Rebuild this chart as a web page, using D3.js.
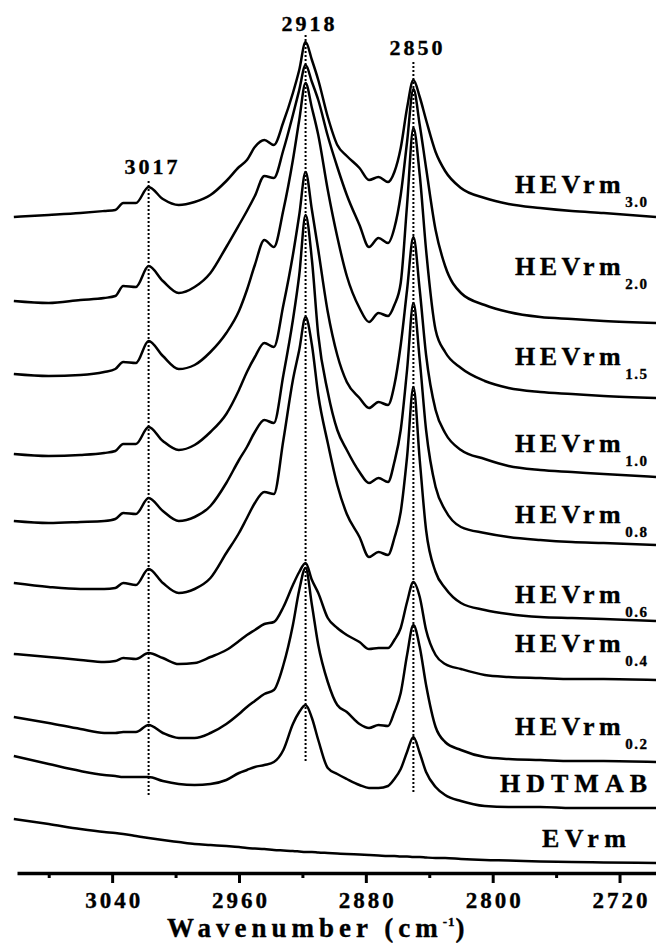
<!DOCTYPE html>
<html>
<head>
<meta charset="utf-8">
<script src="https://cdn.jsdelivr.net/npm/d3@7"></script>
<style>
  body { margin: 0; background: #fff; }
  text { font-family: "Liberation Serif", "Times New Roman", serif; font-weight: bold; fill: #000; stroke: #000; stroke-width: 0.35px; }
</style>
</head>
<body>
<div id="my_dataviz"></div>
<script>
// wavenumber grid (cm-1) shared by every spectrum
const wavenumbers = [3102, 3080, 3060, 3045, 3038, 3033, 3025, 3017, 3008, 2998, 2988, 2978, 2968, 2960, 2955, 2950, 2944, 2938, 2932, 2926, 2922, 2918, 2914, 2910, 2904, 2898, 2892, 2884, 2878, 2872, 2866, 2862, 2858, 2854, 2850, 2846, 2842, 2836, 2830, 2820, 2805, 2790, 2770, 2750, 2730, 2697];

// stacked absorbance (a.u., offset included)
const hevrm30 = [6.53, 6.55, 6.57, 6.59, 6.60, 6.67, 6.67, 6.83, 6.71, 6.65, 6.68, 6.75, 6.89, 7.03, 7.10, 7.23, 7.30, 7.25, 7.48, 7.77, 8.00, 8.28, 8.10, 7.90, 7.53, 7.25, 7.14, 7.02, 6.90, 6.93, 6.88, 6.98, 7.22, 7.62, 7.90, 7.73, 7.50, 7.18, 6.99, 6.82, 6.72, 6.66, 6.62, 6.59, 6.57, 6.53];
const hevrm20 = [5.69, 5.67, 5.70, 5.72, 5.74, 5.84, 5.83, 6.04, 5.89, 5.77, 5.83, 5.97, 6.23, 6.45, 6.59, 6.74, 6.94, 6.92, 7.20, 7.55, 7.80, 8.05, 7.88, 7.70, 7.34, 7.03, 6.75, 6.45, 6.23, 6.32, 6.27, 6.42, 6.75, 7.28, 7.81, 7.45, 7.02, 6.40, 6.04, 5.77, 5.65, 5.58, 5.53, 5.51, 5.49, 5.47];
const hevrm15 = [4.96, 4.94, 4.95, 4.98, 5.01, 5.08, 5.07, 5.29, 5.14, 5.01, 5.05, 5.18, 5.37, 5.59, 5.80, 6.05, 6.30, 6.23, 6.60, 7.10, 7.50, 7.87, 7.62, 7.35, 6.80, 6.33, 5.94, 5.62, 5.48, 5.57, 5.54, 5.65, 5.87, 6.65, 7.42, 6.95, 6.20, 5.40, 5.18, 5.02, 4.89, 4.82, 4.78, 4.76, 4.74, 4.72];
const hevrm10 = [4.16, 4.14, 4.15, 4.17, 4.19, 4.26, 4.26, 4.43, 4.29, 4.20, 4.25, 4.38, 4.56, 4.80, 4.98, 5.13, 5.27, 5.23, 5.65, 6.15, 6.55, 6.98, 6.60, 6.20, 5.58, 5.15, 4.88, 4.72, 4.62, 4.68, 4.65, 4.85, 5.25, 5.80, 6.33, 5.80, 5.15, 4.60, 4.37, 4.20, 4.11, 4.04, 4.00, 3.98, 3.96, 3.93];
const hevrm08 = [3.49, 3.47, 3.48, 3.49, 3.51, 3.57, 3.56, 3.72, 3.59, 3.49, 3.53, 3.64, 3.87, 4.10, 4.23, 4.38, 4.50, 4.47, 4.95, 5.50, 5.95, 6.55, 6.10, 5.35, 4.78, 4.40, 4.20, 3.98, 3.87, 3.92, 3.88, 4.08, 4.40, 5.00, 5.67, 5.10, 4.40, 3.83, 3.60, 3.43, 3.37, 3.33, 3.30, 3.28, 3.27, 3.25];
const hevrm06 = [2.87, 2.83, 2.81, 2.81, 2.82, 2.87, 2.85, 3.01, 2.87, 2.77, 2.81, 2.92, 3.17, 3.37, 3.52, 3.67, 3.78, 3.76, 4.30, 4.90, 5.20, 5.53, 5.25, 4.75, 4.27, 3.85, 3.56, 3.33, 3.13, 3.18, 3.15, 3.32, 3.58, 4.13, 4.83, 4.10, 3.40, 2.98, 2.82, 2.67, 2.60, 2.56, 2.53, 2.52, 2.51, 2.49];
const hevrm04 = [2.16, 2.13, 2.10, 2.08, 2.09, 2.12, 2.11, 2.17, 2.12, 2.06, 2.07, 2.13, 2.20, 2.29, 2.35, 2.40, 2.46, 2.48, 2.63, 2.85, 2.98, 3.07, 2.90, 2.77, 2.52, 2.42, 2.35, 2.28, 2.21, 2.22, 2.22, 2.30, 2.42, 2.68, 2.88, 2.73, 2.40, 2.15, 2.06, 2.01, 1.95, 1.93, 1.92, 1.91, 1.91, 1.90];
const hevrm02 = [1.53, 1.47, 1.41, 1.37, 1.37, 1.38, 1.38, 1.45, 1.37, 1.32, 1.32, 1.37, 1.46, 1.56, 1.63, 1.69, 1.76, 1.80, 2.05, 2.45, 2.80, 3.02, 2.65, 2.25, 1.88, 1.65, 1.58, 1.46, 1.42, 1.45, 1.44, 1.58, 1.77, 2.15, 2.45, 2.23, 1.85, 1.43, 1.28, 1.20, 1.13, 1.11, 1.10, 1.09, 1.09, 1.08];
const hdtmab = [1.14, 1.06, 0.99, 0.95, 0.94, 0.93, 0.93, 0.93, 0.89, 0.86, 0.85, 0.86, 0.90, 0.97, 1.00, 1.03, 1.05, 1.08, 1.20, 1.46, 1.58, 1.65, 1.52, 1.30, 1.02, 0.96, 0.91, 0.85, 0.82, 0.82, 0.84, 0.91, 1.01, 1.18, 1.33, 1.17, 0.98, 0.83, 0.75, 0.69, 0.64, 0.63, 0.63, 0.62, 0.62, 0.62];
const evrm = [0.51, 0.46, 0.41, 0.38, 0.37, 0.36, 0.34, 0.32, 0.30, 0.28, 0.26, 0.25, 0.24, 0.23, 0.22, 0.215, 0.21, 0.20, 0.195, 0.19, 0.185, 0.18, 0.18, 0.175, 0.17, 0.165, 0.16, 0.155, 0.15, 0.145, 0.14, 0.14, 0.135, 0.135, 0.13, 0.13, 0.125, 0.12, 0.12, 0.11, 0.10, 0.095, 0.085, 0.08, 0.075, 0.07];

const labelMain = ["HEVrm", "HEVrm", "HEVrm", "HEVrm", "HEVrm", "HEVrm", "HEVrm", "HEVrm", "HDTMAB", "EVrm"];
const labelSub = ["3.0", "2.0", "1.5", "1.0", "0.8", "0.6", "0.4", "0.2", "", ""];
const peakMarks = [3017, 2918, 2850];
const majorTicks = [3040, 2960, 2880, 2800, 2720];
const minorTicks = [3080, 3000, 2920, 2840, 2760];

// layout (pixels) for the annotations
const width = 656, height = 947, axisY = 873;
const labelX = [515, 515, 515, 515, 515, 515, 515, 515, 500, 542];
const labelY = [193, 275, 365, 452, 523, 603, 652, 735, 792, 847];
const labelSpacing = [4.5, 4.5, 4.5, 4.5, 4.5, 4.5, 4.5, 4.5, 6, 5.5];
const peakLabelY = [174, 31, 55];
const peakLineTop = [181, 35, 62];
const peakLineBottom = [795, 763, 793];

const spectra = [hevrm30, hevrm20, hevrm15, hevrm10, hevrm08, hevrm06, hevrm04, hevrm02, hdtmab, evrm]
  .map(vals => vals.map((v, i) => ({wn: wavenumbers[i], a: v})));

const svg = d3.select("#my_dataviz")
  .append("svg")
  .attr("width", width)
  .attr("height", height)
  .style("display", "block")
  .style("background", "#fff");

// scales (wavenumber runs right to left)
const x = d3.scaleLinear().domain([3100, 2697]).range([17, 656]);
const y = d3.scaleLinear().domain([0, 8.7]).range([870, 0]);

// dotted peak markers
svg.selectAll(".peakline")
  .data(peakMarks)
  .enter()
  .append("line")
    .attr("x1", d => x(d))
    .attr("x2", d => x(d))
    .attr("y1", (d, i) => peakLineTop[i])
    .attr("y2", (d, i) => peakLineBottom[i])
    .attr("stroke", "#000")
    .attr("stroke-width", 2)
    .attr("stroke-dasharray", "2,2");

svg.selectAll(".peaklabel")
  .data(peakMarks)
  .enter()
  .append("text")
    .attr("x", d => x(d) + 4)
    .attr("y", (d, i) => peakLabelY[i])
    .attr("text-anchor", "middle")
    .style("font-size", "22px")
    .style("letter-spacing", "3px")
    .text(d => d);

// spectra
const line = d3.line()
  .x(d => x(d.wn))
  .y(d => y(d.a))
  .curve(d3.curveMonotoneX);

svg.selectAll(".spectrum")
  .data(spectra)
  .enter()
  .append("path")
    .attr("d", line)
    .attr("fill", "none")
    .attr("stroke", "#000")
    .attr("stroke-width", 2.5)
    .attr("stroke-linejoin", "round");

// sample labels
const labels = svg.selectAll(".label")
  .data(labelMain)
  .enter()
  .append("text")
    .attr("x", (d, i) => labelX[i])
    .attr("y", (d, i) => labelY[i])
    .style("font-size", "26px")
    .style("letter-spacing", (d, i) => labelSpacing[i] + "px");
labels.append("tspan").text(d => d);
labels.append("tspan")
  .attr("dy", 14)
  .style("font-size", "15px")
  .style("letter-spacing", "1.5px")
  .text((d, i) => labelSub[i]);

// x axis: major and minor ticks
const axisMajor = svg.append("g")
  .attr("transform", `translate(0, ${axisY})`)
  .call(d3.axisBottom(x).tickValues(majorTicks).tickSize(10).tickSizeOuter(0).tickFormat(d3.format("d")));
axisMajor.select(".domain").attr("stroke-width", 3.5);
axisMajor.selectAll(".tick line").attr("stroke-width", 3);
axisMajor.selectAll(".tick text")
  .attr("y", 35)
  .attr("dy", null)
  .attr("dx", 1.5)
  .style("font-size", "23px")
  .style("letter-spacing", "3px");

const axisMinor = svg.append("g")
  .attr("transform", `translate(0, ${axisY})`)
  .call(d3.axisBottom(x).tickValues(minorTicks).tickSize(5).tickSizeOuter(0).tickFormat(""));
axisMinor.select(".domain").remove();
axisMinor.selectAll(".tick line").attr("stroke-width", 3);

// axis title
const title = svg.append("text")
  .attr("x", 167)
  .attr("y", 937)
  .style("font-size", "27px")
  .style("letter-spacing", "5px");
title.append("tspan").text("Wavenumber (cm");
title.append("tspan").attr("dy", -11).style("font-size", "13px").style("letter-spacing", "1px").text("-1");
title.append("tspan").attr("dy", 11).text(")");
</script>
</body>
</html>
